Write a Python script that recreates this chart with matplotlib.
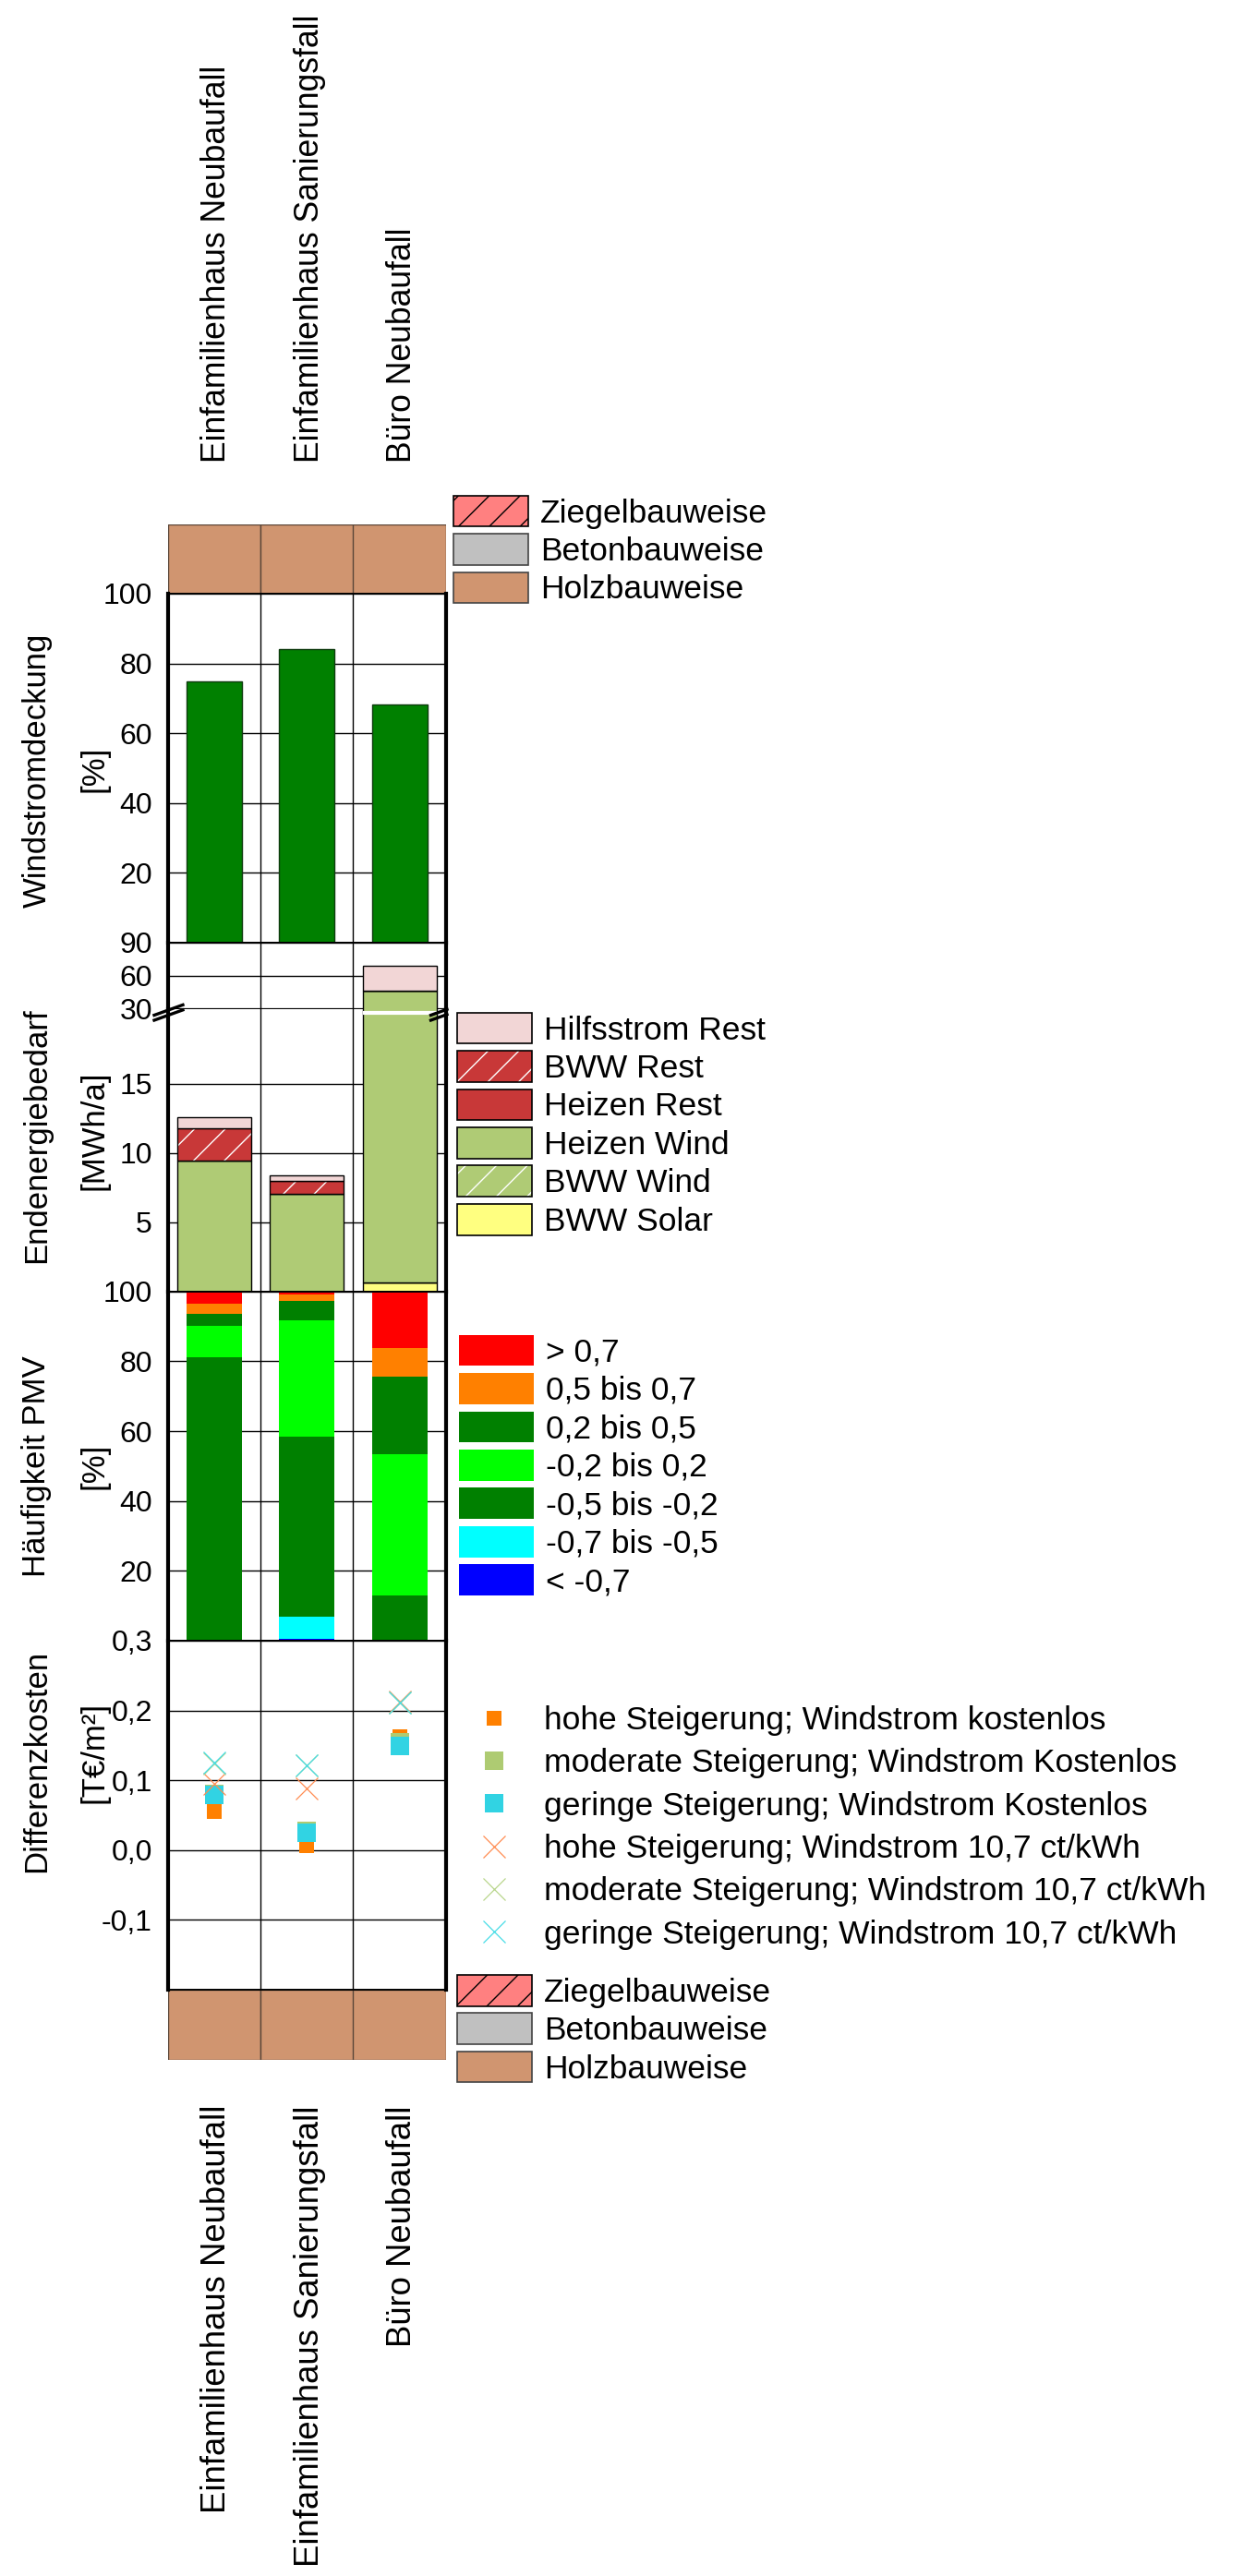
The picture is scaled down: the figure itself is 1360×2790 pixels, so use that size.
import matplotlib
matplotlib.use("Agg")
import matplotlib.pyplot as plt
from matplotlib.patches import Patch
from matplotlib.lines import Line2D
from matplotlib.legend_handler import HandlerTuple
from matplotlib.transforms import blended_transform_factory

plt.rcParams['font.family'] = ['Liberation Sans', 'DejaVu Sans']
plt.rcParams['hatch.linewidth'] = 1.0

# ---------------------------------------------------------------- data
gebaeude = ["Einfamilienhaus Neubaufall", "Einfamilienhaus Sanierungsfall", "Büro Neubaufall"]
bauweise = ["Holzbauweise", "Holzbauweise", "Holzbauweise"]

# Windstromdeckung [%]
windstromdeckung = [75.0, 84.2, 68.2]

# Endenergiebedarf [MWh/a], stacked from bottom to top
bww_solar = [0.0, 0.0, 0.63]
bww_wind = [0.0, 0.0, 0.0]
heizen_wind = [9.47, 7.04, 46.07]
heizen_rest = [0.0, 0.0, 0.0]
bww_rest = [2.34, 0.94, 0.0]
hilfsstrom_rest = [0.76, 0.40, 22.1]

# Häufigkeit PMV [%], stacked from bottom to top
pmv_unter_m07 = [0.0, 0.5, 0.0]
pmv_m07_m05 = [0.0, 6.5, 0.0]
pmv_m05_m02 = [81.1, 51.3, 13.0]
pmv_m02_02 = [9.0, 33.3, 40.5]
pmv_02_05 = [3.4, 5.8, 22.2]
pmv_05_07 = [2.9, 1.8, 8.1]
pmv_ueber_07 = [3.6, 0.8, 16.2]

# Differenzkosten [T€/m²]
hoch_kostenlos = [0.055, 0.007, 0.163]
moderat_kostenlos = [0.081, 0.027, 0.154]
gering_kostenlos = [0.079, 0.025, 0.149]
hoch_107 = [0.095, 0.088, 0.213]
moderat_107 = [0.124, 0.121, 0.212]
gering_107 = [0.125, 0.121, 0.212]

# ---------------------------------------------------------------- colours
BAU_FARBE = {"Ziegelbauweise": "#FF8080", "Betonbauweise": "#C0C0C0", "Holzbauweise": "#D09570"}
C_HILFS = "#F2D6D6"
C_REST = "#C83838"
C_WIND = "#AFCB75"
C_SOLAR = "#FFFF80"
C_RED, C_ORANGE, C_DKGREEN, C_LIME, C_CYAN, C_BLUE = "#FF0000", "#FF8000", "#008000", "#00FF00", "#00FFFF", "#0000FF"
C_SQ_HOCH, C_SQ_MOD, C_SQ_GER = "#FF8000", "#AECB72", "#31D3E3"
C_X_HOCH, C_X_MOD, C_X_GER = "#FF8C50", "#B8D68C", "#46DCE6"

# ---------------------------------------------------------------- layout
W, H = 1360, 2790
fig = plt.figure(figsize=(W / 100, H / 100), dpi=100)
X_L, X_R = 181.5, 483.0


def add_ax(top, bottom):
    return fig.add_axes([X_L / W, 1 - bottom / H, (X_R - X_L) / W, (bottom - top) / H])


def fx(px):
    return px / W


def fy(py):
    return 1 - py / H


TICK_FS = 23
LAB_FS = 25
LEG_FS = 25.5
x = list(range(len(gebaeude)))


def style(ax, ylim, ticks, labels):
    ax.set_xlim(-0.5, 2.5)
    ax.set_ylim(*ylim)
    ax.set_xticks([])
    ax.set_yticks(ticks)
    ax.set_yticklabels(labels)
    ax.tick_params(axis='y', length=0, pad=12, labelsize=TICK_FS)
    ax.yaxis.grid(True, color='black', lw=1.0)
    ax.set_axisbelow(True)
    for s in ('left', 'right'):
        ax.spines[s].set_linewidth(3.0)
    for s in ('top', 'bottom'):
        ax.spines[s].set_linewidth(1.4)
    for xv in (0.5, 1.5):
        ax.axvline(xv, color='black', lw=1.0, zorder=0.5)


def strip(ax):
    ax.set_xlim(-0.5, 2.5)
    ax.set_ylim(0, 1)
    ax.bar(x, [1] * len(x), width=1.0, color=[BAU_FARBE[b] for b in bauweise],
           edgecolor='#5a4638', lw=1.0)
    ax.axis('off')


# construction-type strips
ax_top = add_ax(567.7, 643.0)
strip(ax_top)
ax_bot = add_ax(2155.0, 2230.7)
strip(ax_bot)

# panel 1: Windstromdeckung
ax1 = add_ax(643.0, 1021.0)
style(ax1, (0, 100), [0, 20, 40, 60, 80, 100], ["", "20", "40", "60", "80", "100"])
ax1.bar(x, windstromdeckung, width=0.6, color=C_DKGREEN, edgecolor='#0f3a0f', lw=1.0)

# panel 2: Endenergiebedarf with broken axis
ax2u = add_ax(1021.0, 1093.0)
style(ax2u, (30, 90), [30, 60, 90], ["30", "60", "90"])
ax2u.spines['bottom'].set_linewidth(1.6)
ax2u.spines['bottom'].set_zorder(0.6)
ax2l = add_ax(1093.0, 1398.7)
style(ax2l, (0, 20.4), [0, 5, 10, 15], ["", "5", "10", "15"])
ax2l.spines['top'].set_visible(False)

energie = [
    (bww_solar, C_SOLAR, None),
    (bww_wind, C_WIND, '/'),
    (heizen_wind, C_WIND, None),
    (heizen_rest, C_REST, None),
    (bww_rest, C_REST, '/'),
    (hilfsstrom_rest, C_HILFS, None),
]
for ax in (ax2u, ax2l):
    bottom = [0.0] * len(x)
    for werte, farbe, hatch in energie:
        if hatch:
            ax.bar(x, werte, bottom=bottom, width=0.8, color=farbe, hatch=hatch,
                   edgecolor='white', lw=0)
            ax.bar(x, werte, bottom=bottom, width=0.8, fill=False, edgecolor='black', lw=1.0)
        else:
            ax.bar(x, werte, bottom=bottom, width=0.8, color=farbe, edgecolor='black', lw=1.0)
        bottom = [b + v for b, v in zip(bottom, werte)]

# white gap marking the axis break where a bar runs through it
trans_gap = blended_transform_factory(ax2l.transData, ax2l.transAxes)
ax2l.plot([1.6, 2.4], [0.988, 0.988], color='white', lw=3.0, transform=trans_gap,
          clip_on=False, zorder=3, solid_capstyle='butt')

# break symbols on both spines
for (x0, x1) in ((167.0, 198.0), (466.5, 484.0)):
    for dy in (0.0, 5.5):
        y0 = 1099.5 + dy
        y1 = y0 - (x1 - x0) * 0.36
        fig.add_artist(Line2D([fx(x0), fx(x1)], [fy(y0), fy(y1)], color='black', lw=2.4))

# panel 3: Häufigkeit PMV
ax3 = add_ax(1398.7, 1777.0)
style(ax3, (0, 100), [0, 20, 40, 60, 80, 100], ["", "20", "40", "60", "80", "100"])
pmv = [
    (pmv_unter_m07, C_BLUE),
    (pmv_m07_m05, C_CYAN),
    (pmv_m05_m02, C_DKGREEN),
    (pmv_m02_02, C_LIME),
    (pmv_02_05, C_DKGREEN),
    (pmv_05_07, C_ORANGE),
    (pmv_ueber_07, C_RED),
]
bottom = [0.0] * len(x)
for werte, farbe in pmv:
    ax3.bar(x, werte, bottom=bottom, width=0.6, color=farbe, lw=0)
    bottom = [b + v for b, v in zip(bottom, werte)]

# panel 4: Differenzkosten
ax4 = add_ax(1777.0, 2155.0)
style(ax4, (-0.2, 0.3), [-0.2, -0.1, 0.0, 0.1, 0.2, 0.3],
      ["", "-0,1", "0,0", "0,1", "0,2", "0,3"])
SQ_S, SQ_L, X_S = 11.5, 15.0, 17.5
ax4.plot(x, hoch_kostenlos, ls='none', marker='s', ms=SQ_S, color=C_SQ_HOCH, mew=0, zorder=3)
ax4.plot(x, moderat_kostenlos, ls='none', marker='s', ms=SQ_L, color=C_SQ_MOD, mew=0, zorder=3)
ax4.plot(x, gering_kostenlos, ls='none', marker='s', ms=SQ_L, color=C_SQ_GER, mew=0, zorder=3)
ax4.plot(x, hoch_107, ls='none', marker='x', ms=X_S, color=C_X_HOCH, mew=0.9, zorder=3)
ax4.plot(x, moderat_107, ls='none', marker='x', ms=X_S, color=C_X_MOD, mew=0.9, zorder=3)
ax4.plot(x, gering_107, ls='none', marker='x', ms=X_S, color=C_X_GER, mew=0.9, zorder=3)

# axis titles (two lines each)
ylabels = [
    ("Windstromdeckung", "[%]", 834, 833),
    ("Endenergiebedarf", "[MWh/a]", 1230, 1224),
    ("Häufigkeit PMV", "[%]", 1588, 1588),
    ("Differenzkosten", "[T€/m²]", 1907, 1898),
]
for l1, l2, y1, y2 in ylabels:
    fig.text(fx(40), fy(y1), l1, rotation=90, ha='center', va='center', fontsize=LAB_FS)
    fig.text(fx(102), fy(y2), l2, rotation=90, ha='center', va='center', fontsize=LAB_FS)

# building names above and below the chart
t_top = blended_transform_factory(ax_top.transData, fig.transFigure)
t_bot = blended_transform_factory(ax_bot.transData, fig.transFigure)
for i, name in enumerate(gebaeude):
    ax_top.text(i + 0.03, fy(501), name, rotation=90, ha='center', va='bottom',
                fontsize=25.6, transform=t_top, clip_on=False)
    ax_bot.text(i + 0.03, fy(2280), name, rotation=90, ha='center',
                va='top', fontsize=26.3, transform=t_bot, clip_on=False)

# ---------------------------------------------------------------- legends
leg_kw = dict(loc='upper left', frameon=False, fontsize=LEG_FS, borderpad=0,
              borderaxespad=0)
box_kw = dict(handlelength=2.28, handleheight=1.082, handletextpad=0.376, labelspacing=0.158)

bau_handles = [Patch(facecolor=BAU_FARBE["Ziegelbauweise"], edgecolor='black', hatch='/', lw=1.2),
               Patch(facecolor=BAU_FARBE["Betonbauweise"], edgecolor='#444444', lw=1.2),
               Patch(facecolor=BAU_FARBE["Holzbauweise"], edgecolor='#444444', lw=1.2)]
bau_labels = ["Ziegelbauweise", "Betonbauweise", "Holzbauweise"]
fig.legend(bau_handles, bau_labels, bbox_to_anchor=(fx(491), fy(536.7)), **box_kw, **leg_kw)
fig.legend(bau_handles, bau_labels, bbox_to_anchor=(fx(495), fy(2139)), **box_kw, **leg_kw)


def hatched(farbe):
    return (Patch(facecolor=farbe, edgecolor='white', hatch='/', lw=0),
            Patch(facecolor='none', edgecolor='black', lw=1.2))


en_handles = [Patch(facecolor=C_HILFS, edgecolor='black', lw=1.2),
              hatched(C_REST),
              Patch(facecolor=C_REST, edgecolor='black', lw=1.2),
              Patch(facecolor=C_WIND, edgecolor='black', lw=1.2),
              hatched(C_WIND),
              Patch(facecolor=C_SOLAR, edgecolor='black', lw=1.2)]
en_labels = ["Hilfsstrom Rest", "BWW Rest", "Heizen Rest", "Heizen Wind", "BWW Wind", "BWW Solar"]
fig.legend(en_handles, en_labels, bbox_to_anchor=(fx(495), fy(1096.7)),
           handler_map={tuple: HandlerTuple(ndivide=1, pad=0)}, **box_kw, **leg_kw)

pmv_handles = [Patch(facecolor=c, edgecolor='none') for c in
               (C_RED, C_ORANGE, C_DKGREEN, C_LIME, C_DKGREEN, C_CYAN, C_BLUE)]
pmv_labels = ["> 0,7", "0,5 bis 0,7", "0,2 bis 0,5", "-0,2 bis 0,2", "-0,5 bis -0,2",
              "-0,7 bis -0,5", "< -0,7"]
fig.legend(pmv_handles, pmv_labels, bbox_to_anchor=(fx(497), fy(1445.7)), **box_kw, **leg_kw)

kost_handles = [Line2D([], [], ls='none', marker='s', ms=SQ_S, color=C_SQ_HOCH, mew=0),
                Line2D([], [], ls='none', marker='s', ms=SQ_L, color=C_SQ_MOD, mew=0),
                Line2D([], [], ls='none', marker='s', ms=SQ_L, color=C_SQ_GER, mew=0),
                Line2D([], [], ls='none', marker='x', ms=X_S, color=C_X_HOCH, mew=0.9),
                Line2D([], [], ls='none', marker='x', ms=X_S, color=C_X_MOD, mew=0.9),
                Line2D([], [], ls='none', marker='x', ms=X_S, color=C_X_GER, mew=0.9)]
kost_labels = ["hohe Steigerung; Windstrom kostenlos",
               "moderate Steigerung; Windstrom Kostenlos",
               "geringe Steigerung; Windstrom Kostenlos",
               "hohe Steigerung; Windstrom 10,7 ct/kWh",
               "moderate Steigerung; Windstrom 10,7 ct/kWh",
               "geringe Steigerung; Windstrom 10,7 ct/kWh"]
fig.legend(kost_handles, kost_labels, bbox_to_anchor=(fx(499.4), fy(1847)),
           handlelength=2.0, handleheight=0.7, handletextpad=0.52, labelspacing=0.376,
           **leg_kw)

fig.savefig("out.png", dpi=100)
